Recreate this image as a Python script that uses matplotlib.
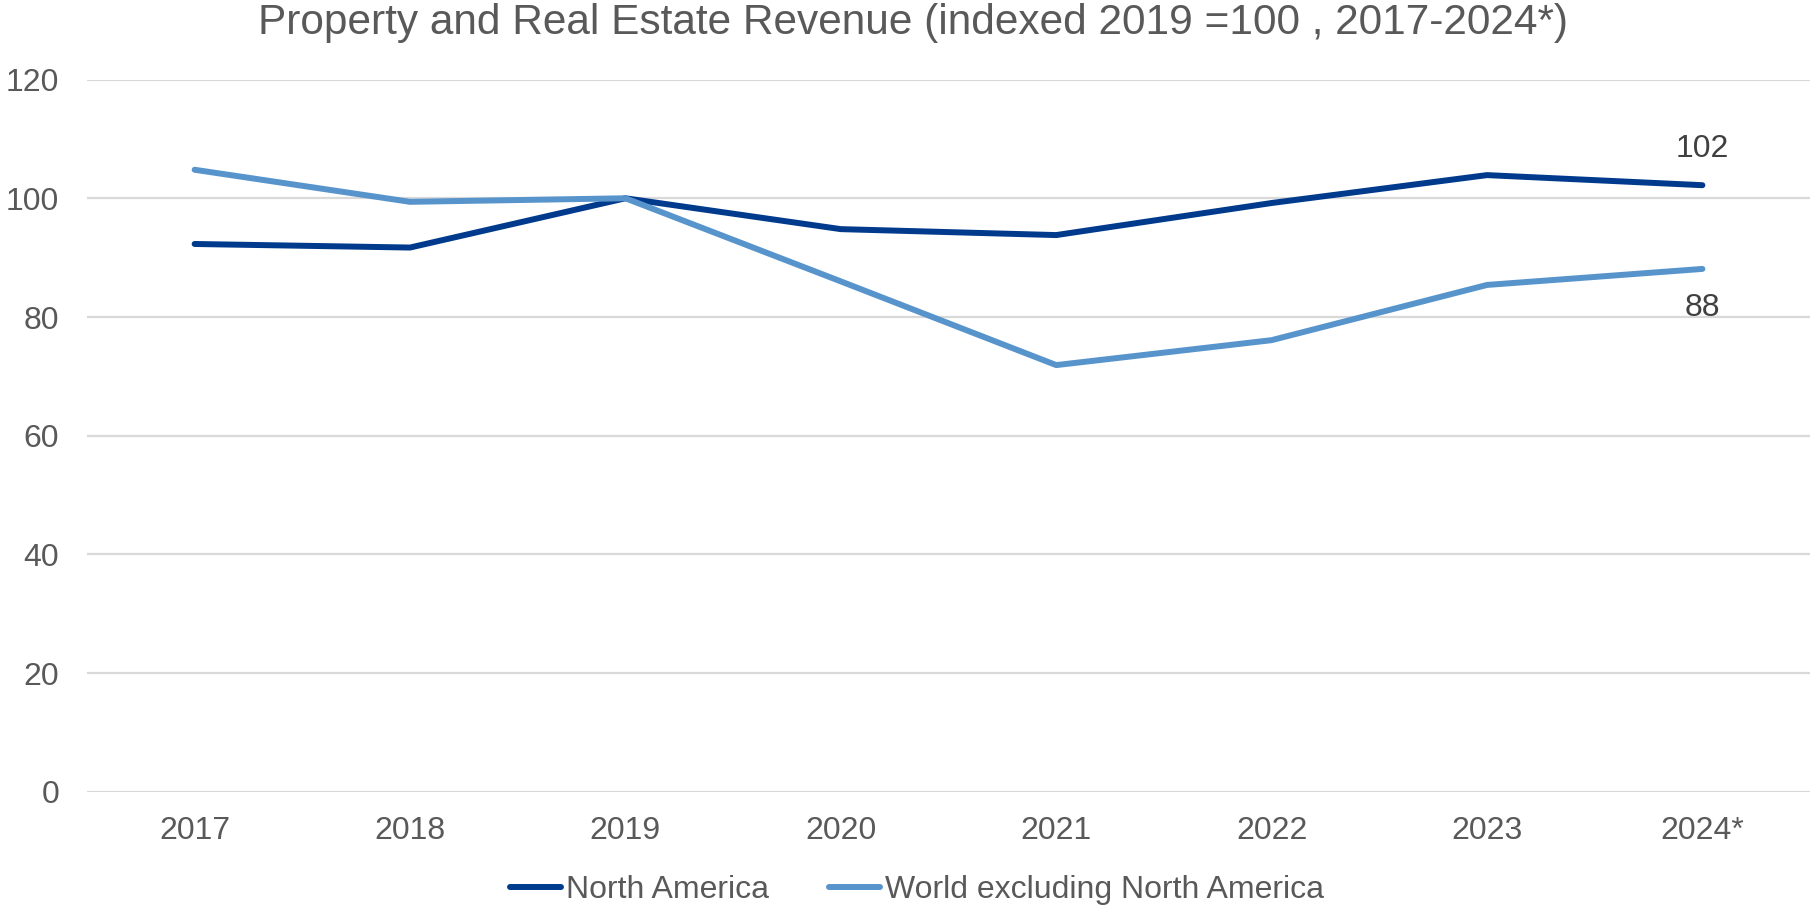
import matplotlib.pyplot as plt

plt.rcParams['font.family'] = ['Liberation Sans', 'DejaVu Sans']

years = ['2017', '2018', '2019', '2020', '2021', '2022', '2023', '2024*']
north_america = [92.3, 91.7, 100.0, 94.8, 93.8, 99.2, 103.9, 102.2]
world_ex_na = [104.8, 99.4, 100.0, 86.0, 71.9, 76.1, 85.4, 88.1]
end_labels = ['102', '88']

grey = '#595959'
c_na = '#003A8C'
c_w = '#5894CC'

fig = plt.figure(figsize=(18.11, 9.14), dpi=100)
ax = fig.add_axes([0.048, 0.1335, 0.9515, 0.7795])

x = range(len(years))
ax.plot(x, north_america, color=c_na, lw=4.3, solid_capstyle='round',
        solid_joinstyle='round', label='North America', zorder=3)
ax.plot(x, world_ex_na, color=c_w, lw=4.3, solid_capstyle='round',
        solid_joinstyle='round', label='World excluding North America', zorder=3)

# end labels
ax.annotate(end_labels[0], (x[-1], north_america[-1]), xytext=(0, 26),
            textcoords='offset points', ha='center', va='center',
            fontsize=23, color='#404040')
ax.annotate(end_labels[1], (x[-1], world_ex_na[-1]), xytext=(0, -28),
            textcoords='offset points', ha='center', va='center',
            fontsize=23, color='#404040')

ax.set_xlim(-0.5, len(years) - 0.5)
ax.set_ylim(0, 120)
ax.set_yticks(range(0, 121, 20))
ax.set_xticks(list(x))
ax.set_xticklabels(years)
ax.grid(axis='y', color='#d9d9d9', lw=1.6)
ax.set_axisbelow(True)
for s in ax.spines.values():
    s.set_visible(False)
ax.tick_params(length=0, labelsize=23, colors=grey)
ax.tick_params(axis='y', pad=20)
ax.tick_params(axis='x', pad=17.5)

fig.suptitle('Property and Real Estate Revenue (indexed 2019 =100 , 2017-2024*)',
             x=0.504, y=1 - 23 / 914, va='center', fontsize=30.5, color=grey)

ax.legend(loc='center', bbox_to_anchor=(917 / 1811, 24 / 914),
          bbox_transform=fig.transFigure, ncol=2, frameon=False,
          fontsize=23, labelcolor=grey, handlelength=1.6, handletextpad=0.15,
          columnspacing=1.9)

fig.savefig('out.png', dpi=100)
